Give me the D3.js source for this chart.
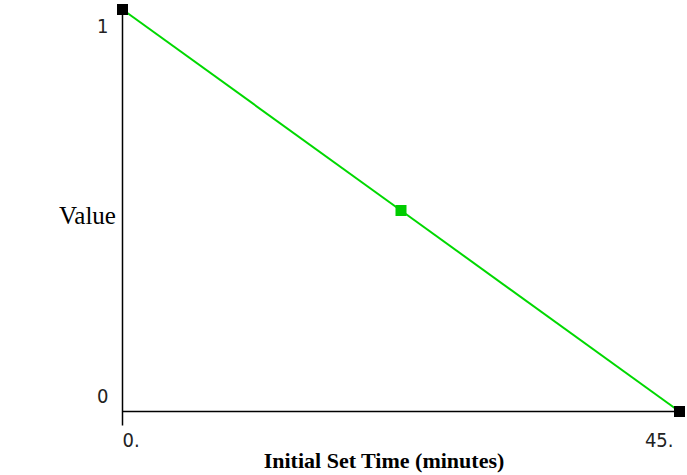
<!DOCTYPE html>
<html><head><meta charset="utf-8">
<script src="https://cdn.jsdelivr.net/npm/d3@7"></script>
<style>
html,body{margin:0;padding:0;background:#fff;}
svg{display:block;}
.tick{font-family:"Liberation Sans Narrow","DejaVu Sans Condensed","Liberation Sans",sans-serif;font-stretch:condensed;font-size:20px;fill:#222;}
</style></head>
<body>
<svg id="c" width="687" height="475"></svg>
<script>
const xValues = [0, 22.5, 45];
const yValues = [1, 0.5, 0];
const markerColors = ["#000000", "#00cc00", "#000000"];
const xTickValues = [0, 45];
const xTickLabels = ["0.", "45."];
const yTickValues = [0, 1];
const yTickLabels = ["0", "1"];
const xTitle = "Initial Set Time (minutes)";
const yTitle = "Value";

const svg = d3.select("#c");
const x = d3.scaleLinear().domain([0, 45]).range([122.5, 679.5]);
const y = d3.scaleLinear().domain([0, 1]).range([411.5, 9.5]);

// axes
svg.append("line").attr("x1", x(0)).attr("x2", x(0)).attr("y1", y(1)).attr("y2", y(0) + 14)
  .attr("stroke", "#000").attr("stroke-width", 1.5);
svg.append("line").attr("x1", x(0)).attr("x2", x(45)).attr("y1", y(0)).attr("y2", y(0))
  .attr("stroke", "#000").attr("stroke-width", 1.5);

// y tick labels
svg.selectAll(".yl").data(yTickValues).enter().append("text").attr("class", "tick")
  .attr("x", x(0) - 14).attr("y", d => y(d) + (d === 1 ? 23 : -9))
  .attr("text-anchor", "end").text((d, i) => yTickLabels[i]);

// x tick labels
svg.selectAll(".xl").data(xTickValues).enter().append("text").attr("class", "tick")
  .attr("x", d => x(d) + (d === 0 ? 0 : -6)).attr("y", y(0) + 35)
  .attr("text-anchor", d => d === 0 ? "start" : "end").text((d, i) => xTickLabels[i]);

// line
const pts = xValues.map((v, i) => [v, yValues[i]]);
svg.append("path").datum(pts)
  .attr("d", d3.line().x(d => x(d[0])).y(d => y(d[1])))
  .attr("fill", "none").attr("stroke", "#00d800").attr("stroke-width", 2);

// markers
const s = 11;
svg.selectAll(".m").data(pts).enter().append("rect")
  .attr("x", d => x(d[0]) - s / 2).attr("y", d => y(d[1]) - s / 2)
  .attr("width", s).attr("height", s).attr("fill", (d, i) => markerColors[i]);

// titles
svg.append("text").attr("x", 59).attr("y", 224)
  .attr("font-family", "Liberation Serif, Times New Roman, serif").attr("font-size", 25)
  .attr("fill", "#000").text(yTitle);
svg.append("text").attr("x", (x(0) + x(45)) / 2 - 17).attr("y", 468)
  .attr("text-anchor", "middle")
  .attr("font-family", "Liberation Serif, Times New Roman, serif").attr("font-weight", "bold")
  .attr("font-size", 22).attr("fill", "#000").text(xTitle);
</script>
</body></html>
